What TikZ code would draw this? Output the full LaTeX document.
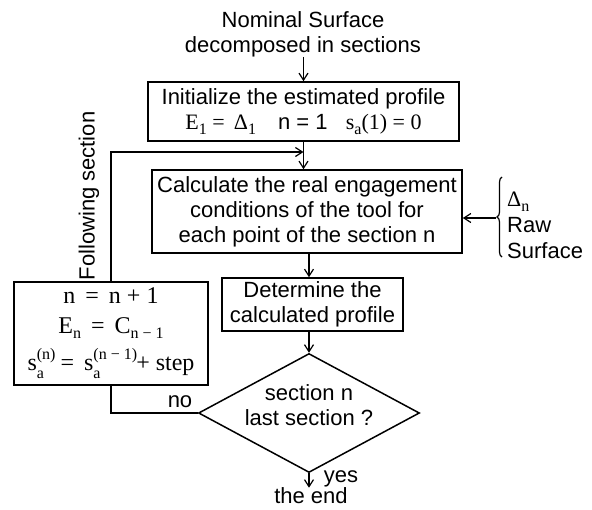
\documentclass[tikz,border=0pt]{standalone}
\usepackage{fontspec}
\setmainfont{Liberation Sans}
\newfontfamily\serfont{Liberation Serif}
\usetikzlibrary{shapes.geometric,arrows.meta,decorations.pathreplacing}
\newcommand\mysub[1]{\raisebox{-5pt}{\fontsize{16}{16}\selectfont #1}}
\newcommand\mysupsub[2]{\rlap{\raisebox{11pt}{\fontsize{16}{16}\selectfont #1}}\raisebox{-8pt}{\fontsize{16}{16}\selectfont #2}\hphantom{\fontsize{16}{16}\selectfont #1}\hspace{-0.5em}}
\begin{document}
\begin{tikzpicture}[x=1pt,y=-1pt,
  font=\fontsize{22}{25}\selectfont,
  box/.style={draw,line width=1.6pt,inner sep=0pt,align=center},
  conn/.style={line width=1.5pt,-{Straight Barb[length=7pt,width=9pt,line width=1.2pt]}},
  plain/.style={line width=1.5pt},
  lbl/.style={inner sep=0pt}]
\useasboundingbox (0,0) rectangle (592,509);
\node[lbl,align=center] (title) at (303,34) {Nominal Surface\\decomposed in sections};
\node[box,minimum width=311pt,minimum height=59pt] (init) at (303.5,111.5)
  {Initialize the estimated profile\\ {\serfont E\mysub{1} = \,Δ\mysub{1}}\quad n = 1\;\; {\serfont s\mysub{a}(1) = 0}};
\node[box,minimum width=310pt,minimum height=83pt] (calc) at (307,211.5)
  {Calculate the real engagement\\conditions of the tool for\\each point of the section n};
\node[box,minimum width=181pt,minimum height=53pt] (det) at (312.5,304.5)
  {Determine the\\calculated profile};
\node[draw,diamond,line width=1.5pt,shape aspect=1.86,minimum width=221pt,minimum height=119pt,inner sep=0pt,
  label={[align=center,inner sep=0pt,yshift=8pt]center:section n\\last section ?}] (dia) at (309,413) {};
\node[box,minimum width=194pt,minimum height=103pt,font=\serfont\fontsize{24}{27}\selectfont] (nbox) at (111,333.5)
  {n \,=\, n + 1\\[3pt] E\mysub{n} \,=\, C\mysub{n − 1}\\[9pt] s\mysupsub{(n)}{a}\, = \,s\mysupsub{(n − 1)}{a}\,+ step};
\node[lbl] (end) at (311,496) {the end};
\node[lbl] (yes) at (341,479) {yes};
\node[lbl] (no) at (180,402) {no};
\node[lbl,rotate=90] (follow) at (89,196) {Following section};
\node[lbl,align=left,anchor=west,font=\fontsize{22}{26}\selectfont] (raw) at (507,225) {{\serfont Δ\mysub{n}}\\Raw\\Surface};
\coordinate (join) at (303.5,152);
\coordinate (brtop) at (502,177);
\coordinate (brbot) at (502,257);
\coordinate (brtip) at (496,218);

\draw[conn] (init.north |- title.south) -- (init.north);
\draw[conn] (init.south) -- (init.south |- calc.north);
\draw[conn] (nbox.north) |- (join);
\draw[conn] (brtip) -- (brtip -| calc.east);
\draw[line width=1.2pt,decorate,decoration={brace,amplitude=5pt}] (brbot) -- (brtop);
\draw[conn] (dia.north |- calc.south) -- (dia.north |- det.north);
\draw[conn] (dia.north |- det.south) -- (dia.north);
\draw[conn] (dia.south) -- (dia.south |- end.north);
\draw[plain] (dia.west) -| (nbox.south);
\end{tikzpicture}
\end{document}
